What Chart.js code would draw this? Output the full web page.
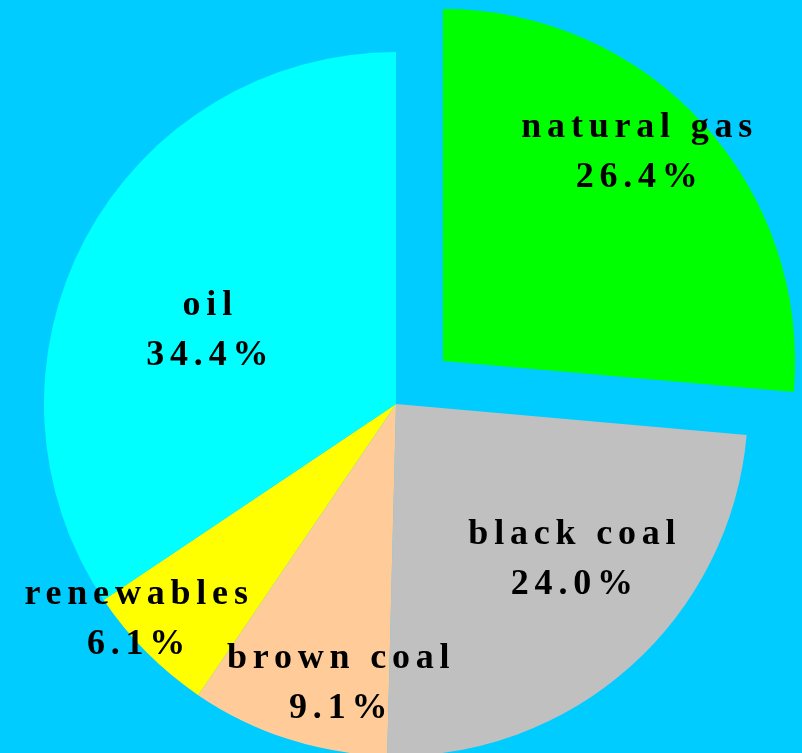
<!DOCTYPE html>
<html>
<head>
<meta charset="utf-8">
<script src="https://cdn.jsdelivr.net/npm/chart.js@4/dist/chart.umd.min.js"></script>
<style>
  html, body { margin: 0; padding: 0; background: #00ccff; }
  canvas { display: block; }
</style>
</head>
<body>
<canvas id="energyPie" width="802" height="753"></canvas>
<script>
// energy mix shares, clockwise from 12 o'clock
const labels = ['natural gas', 'black coal', 'brown coal', 'renewables', 'oil'];
const shares = [26.4, 24.0, 9.1, 6.1, 34.4];
const sliceColors = ['#00ff00', '#c0c0c0', '#ffcc99', '#ffff00', '#00ffff'];
// chart.js v4 moves an arc by offset/4, so 254 -> ~63px
const explode = [254, 0, 0, 0, 0];

// where the text sits: fraction of radius and angle nudge (deg) from the slice middle
const labelFrac = [0.79, 0.686, 0.836, 0.977, 0.566];
const labelTurn = [-3.3, -5, -6.5, 3.9, -9.3];

const sliceLabels = {
  id: 'sliceLabels',
  afterDatasetsDraw(chart) {
    const ctx = chart.ctx;
    const arcs = chart.getDatasetMeta(0).data;
    const gap = 5.8;
    ctx.save();
    ctx.font = 'bold 36px "Liberation Serif", "Times New Roman", serif';
    ctx.fillStyle = '#000';
    ctx.textBaseline = 'alphabetic';
    ctx.textAlign = 'left';
    ctx.letterSpacing = gap + 'px';
    arcs.forEach((arc, i) => {
      const mid = (arc.startAngle + arc.endAngle) / 2;
      const shift = explode[i] / 4;
      const cx = arc.x + Math.cos(mid) * shift;
      const cy = arc.y + Math.sin(mid) * shift;
      const a = mid + labelTurn[i] * Math.PI / 180;
      const r = arc.outerRadius * labelFrac[i];
      const x = cx + Math.cos(a) * r;
      const y = cy + Math.sin(a) * r;
      const lines = [labels[i], shares[i].toFixed(1) + '%'];
      lines.forEach((t, k) => {
        const w = ctx.measureText(t).width - gap;
        ctx.fillText(t, x - w / 2, y - 25 + k * 50);
      });
    });
    ctx.restore();
  }
};

new Chart(document.getElementById('energyPie'), {
  type: 'pie',
  data: {
    labels: labels,
    datasets: [{
      data: shares,
      backgroundColor: sliceColors,
      borderWidth: 0,
      offset: explode,
      clip: false
    }]
  },
  options: {
    responsive: false,
    devicePixelRatio: 1,
    animation: false,
    radius: 352,
    layout: { padding: { left: 0, right: 10, top: 55, bottom: 0 } },
    plugins: {
      legend: { display: false },
      tooltip: { enabled: false }
    }
  },
  plugins: [sliceLabels]
});
</script>
</body>
</html>
